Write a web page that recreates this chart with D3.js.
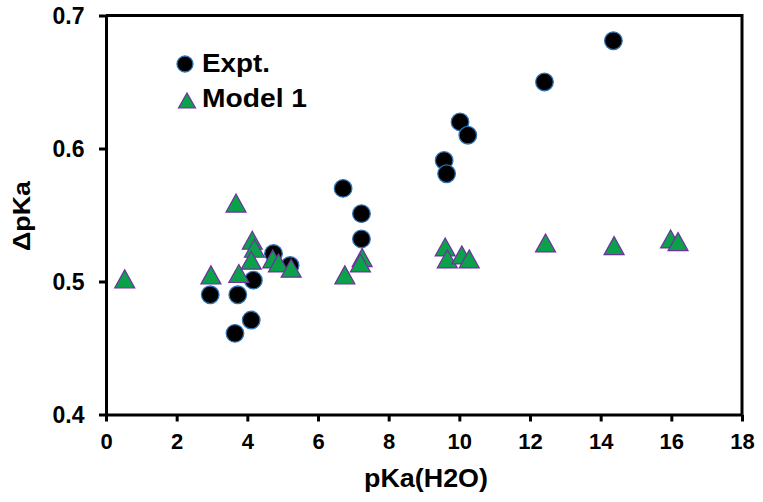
<!DOCTYPE html>
<html><head><meta charset="utf-8">
<script src="https://cdn.jsdelivr.net/npm/d3@7"></script>
<style>body{margin:0;background:#fff}svg text{font-family:"Liberation Sans",Arial,sans-serif;font-weight:bold}</style>
</head><body><svg id="c" width="763" height="502"></svg>
<script>
const xTicks = [0,2,4,6,8,10,12,14,16,18];
const yTicks = [0.4,0.5,0.6,0.7];
const exptX = [2.95,3.73,3.65,4.11,4.17,4.74,5.21,6.71,7.23,7.23,9.57,9.64,10.02,10.24,12.41,14.36];
const exptY = [0.490,0.490,0.461,0.471,0.501,0.521,0.512,0.570,0.551,0.532,0.591,0.581,0.620,0.610,0.650,0.681];
const modelX = [0.53,2.97,3.68,3.76,4.14,4.20,4.11,4.72,4.88,5.24,6.76,7.25,7.20,9.60,9.66,10.07,10.28,12.44,14.38,15.98,16.19];
const modelY = [0.502,0.505,0.559,0.506,0.531,0.525,0.516,0.517,0.514,0.510,0.505,0.518,0.514,0.526,0.517,0.520,0.517,0.529,0.527,0.532,0.530];
const seriesNames = ["Expt.","Model 1"];

const svg = d3.select("#c");
const L=106,R=742,T=15.5,B=414.5;
const x = d3.scaleLinear().domain([0,18]).range([L,R]);
const y = d3.scaleLinear().domain([0.4,0.7]).range([B,T]);

// frame top/right
svg.append("path").attr("d",`M${L},${T}H${R}V${B}`).attr("fill","none").attr("stroke","#000").attr("stroke-width",3);

const xa = svg.append("g").attr("transform",`translate(0,${B})`)
  .call(d3.axisBottom(x).tickValues(xTicks).tickFormat(d3.format("d")).tickSize(7).tickSizeOuter(0));
const ya = svg.append("g").attr("transform",`translate(${L},0)`)
  .call(d3.axisLeft(y).tickValues(yTicks).tickFormat(d3.format(".1f")).tickSize(7).tickSizeOuter(0));
[xa,ya].forEach(a=>{
  a.select(".domain").attr("stroke","#000").attr("stroke-width",3);
  a.selectAll(".tick line").attr("stroke","#000").attr("stroke-width",3);
  a.selectAll(".tick text").attr("fill","#000");
});
xa.selectAll(".tick text").style("font-size","22px").attr("dy","1.1em");
ya.selectAll(".tick text").style("font-size","23px").attr("dx","-0.5em").attr("dy","0.36em");

svg.append("text").attr("x",426).attr("y",487).attr("text-anchor","middle").style("font-size","26px")
  .attr("textLength",124).attr("lengthAdjust","spacingAndGlyphs").text("pKa(H2O)");
svg.append("text").attr("transform","translate(30,216) rotate(-90)").attr("text-anchor","middle").style("font-size","24px")
  .attr("textLength",70).attr("lengthAdjust","spacingAndGlyphs").text("ΔpKa");

const tri = (w,h)=>`M0,${-h/2}L${w/2},${h/2}L${-w/2},${h/2}Z`;
const expt = exptX.map((v,i)=>({x:v,y:exptY[i]}));
const model = modelX.map((v,i)=>({x:v,y:modelY[i]}));

svg.append("g").selectAll("circle").data(expt).join("circle")
  .attr("cx",d=>x(d.x)).attr("cy",d=>y(d.y)).attr("r",8.8)
  .attr("fill","#000").attr("stroke","#2e75b6").attr("stroke-width",1.3);
svg.append("g").selectAll("path").data(model).join("path")
  .attr("d",tri(20,18)).attr("transform",d=>`translate(${x(d.x)},${y(d.y)})`)
  .attr("fill","#0aa14a").attr("stroke","#7030a0").attr("stroke-width",1.2);

// legend
const lg = svg.append("g");
lg.append("circle").attr("cx",185).attr("cy",64).attr("r",8).attr("fill","#000").attr("stroke","#2e75b6").attr("stroke-width",1.3);
lg.append("path").attr("d",tri(17,15)).attr("transform","translate(187,100.5)").attr("fill","#0aa14a").attr("stroke","#7030a0").attr("stroke-width",1.2);
lg.append("text").attr("x",202).attr("y",72).style("font-size","26px")
  .attr("textLength",68).attr("lengthAdjust","spacingAndGlyphs").text(seriesNames[0]);
lg.append("text").attr("x",202).attr("y",107).style("font-size","26px")
  .attr("textLength",105).attr("lengthAdjust","spacingAndGlyphs").text(seriesNames[1]);
</script></body></html>
